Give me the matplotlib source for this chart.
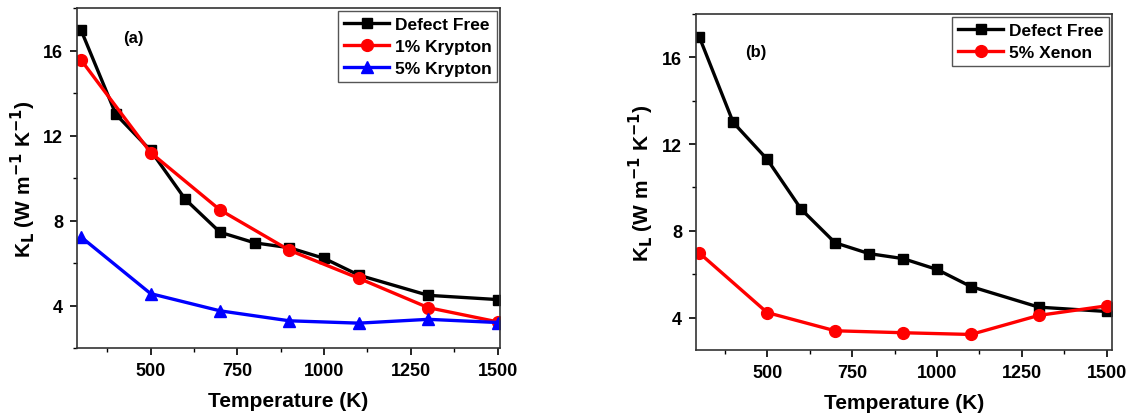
import matplotlib
matplotlib.use("Agg")
import matplotlib.pyplot as plt
from matplotlib.ticker import MultipleLocator, AutoMinorLocator

plt.rcParams['font.family'] = ['Liberation Sans', 'DejaVu Sans']
plt.rcParams['font.weight'] = 'bold'
plt.rcParams['mathtext.default'] = 'bf'

# lattice thermal conductivity vs temperature
temp_pure = [300, 400, 500, 600, 700, 800, 900, 1000, 1100, 1300, 1500]
kl_pure = [16.95, 13.0, 11.3, 9.0, 7.45, 6.95, 6.72, 6.22, 5.43, 4.48, 4.28]

temp_defect = [300, 500, 700, 900, 1100, 1300, 1500]
kl_kr1 = [15.55, 11.2, 8.5, 6.6, 5.28, 3.9, 3.23]
kl_kr5 = [7.22, 4.56, 3.75, 3.28, 3.17, 3.35, 3.2]
kl_xe5 = [6.98, 4.23, 3.39, 3.3, 3.22, 4.1, 4.54]

fig = plt.figure(figsize=(11.26, 4.14), dpi=100)
ax1 = fig.add_axes([0.0684, 0.157, 0.3757, 0.821])
ax2 = fig.add_axes([0.618, 0.152, 0.3694, 0.8116])

lw = 2.4
ms = 7.5

ax1.plot(temp_pure, kl_pure, '-s', color='black', lw=lw, ms=ms, label='Defect Free')
ax1.plot(temp_defect, kl_kr1, '-o', color='red', lw=lw, ms=ms + 1, label='1% Krypton')
ax1.plot(temp_defect, kl_kr5, '-^', color='blue', lw=lw, ms=ms + 1, label='5% Krypton')
ax1.set_xlim(288, 1507)
ax1.set_ylim(2, 18)
ax1.text(0.11, 0.9, '(a)', transform=ax1.transAxes, fontsize=12, fontweight='bold')

ax2.plot(temp_pure, kl_pure, '-s', color='black', lw=lw, ms=ms, label='Defect Free')
ax2.plot(temp_defect, kl_xe5, '-o', color='red', lw=lw, ms=ms + 1, label='5% Xenon')
ax2.set_xlim(290, 1515)
ax2.set_ylim(2.5, 18)
ax2.text(0.118, 0.875, '(b)', transform=ax2.transAxes, fontsize=12, fontweight='bold')

for ax in (ax1, ax2):
    ax.xaxis.set_major_locator(MultipleLocator(250))
    ax.xaxis.set_minor_locator(AutoMinorLocator(2))
    ax.yaxis.set_major_locator(MultipleLocator(4))
    ax.yaxis.set_minor_locator(AutoMinorLocator(2))
    ax.tick_params(which='major', direction='out', length=5, width=1.2, labelsize=13, pad=5)
    ax.tick_params(which='minor', direction='out', length=3, width=1.0)
    for lab in ax.get_xticklabels() + ax.get_yticklabels():
        lab.set_fontweight('bold')
    for sp in ax.spines.values():
        sp.set_linewidth(1.2)
        sp.set_color('#333333')
    ax.set_xlabel('Temperature (K)', fontsize=15, fontweight='bold', labelpad=9)
    ax.set_ylabel(r'K$_\mathbf{L}$ (W m$^\mathbf{-1}$ K$^\mathbf{-1}$)', fontsize=15,
                  fontweight='bold', labelpad=4)
    leg = ax.legend(loc='upper right', fontsize=12.5, fancybox=False, framealpha=1,
                    borderaxespad=0.15, handlelength=2.6, handletextpad=0.3,
                    borderpad=0.35, labelspacing=0.4)
    leg.get_frame().set_edgecolor('#555555')
    leg.get_frame().set_linewidth(1.0)
    for t in leg.get_texts():
        t.set_fontweight('bold')

fig.savefig('out.png', dpi=100)
